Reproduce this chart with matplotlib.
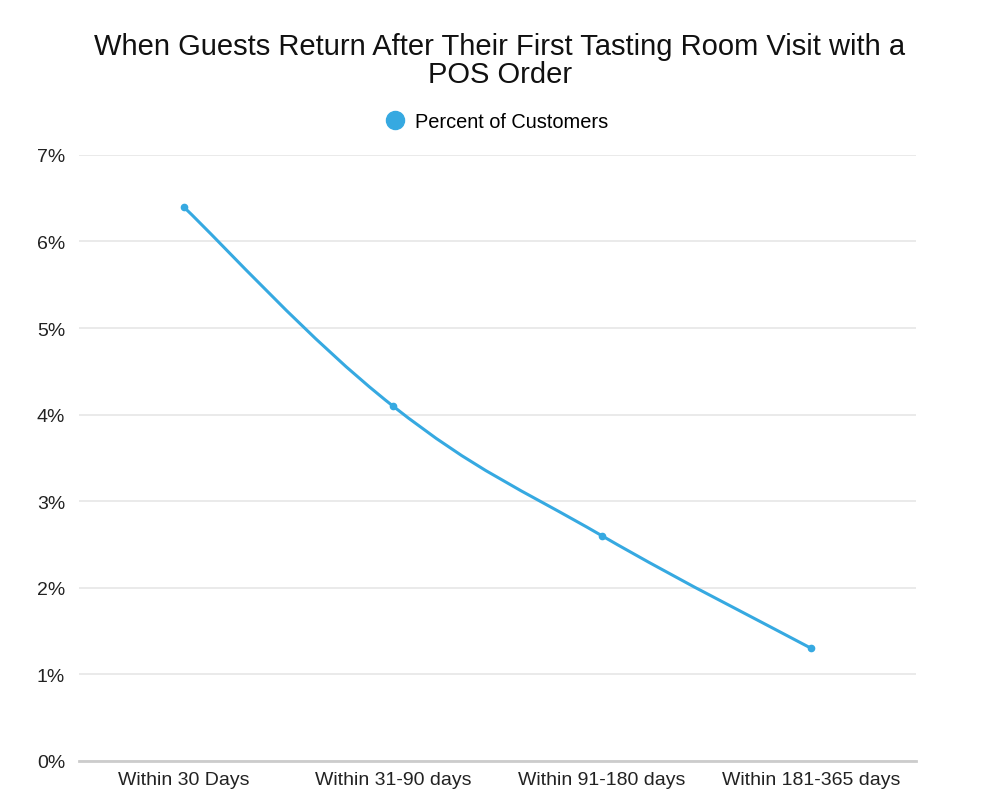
import matplotlib
matplotlib.use("Agg")
import matplotlib.pyplot as plt
import numpy as np
from matplotlib.path import Path
from matplotlib.patches import PathPatch
from matplotlib.lines import Line2D

categories = ["Within 30 Days", "Within 31-90 days", "Within 91-180 days", "Within 181-365 days"]
values = [6.4, 4.1, 2.6, 1.3]
yticks = [0, 1, 2, 3, 4, 5, 6, 7]
ytick_labels = ["0%", "1%", "2%", "3%", "4%", "5%", "6%", "7%"]
series_name = "Percent of Customers"
title = "When Guests Return After Their First Tasting Room Visit with a\nPOS Order"

color = "#36A9E1"
plt.rcParams['font.family'] = ['Liberation Sans', 'DejaVu Sans']

fig = plt.figure(figsize=(10, 8.12), dpi=100)
ax = fig.add_axes([0.079, 0.0616, 0.837, 0.7464])

x = np.arange(len(categories), dtype=float)
y = np.array(values, dtype=float)

# smooth curve via Catmull-Rom -> Bezier (tension) built from the data points
t = 0.4
verts = [(x[0], y[0])]
codes = [Path.MOVETO]
n = len(x)
for i in range(n - 1):
    p0 = (x[i - 1], y[i - 1]) if i > 0 else (x[i], y[i])
    p1 = (x[i], y[i])
    p2 = (x[i + 1], y[i + 1])
    p3 = (x[i + 2], y[i + 2]) if i + 2 < n else (x[i + 1], y[i + 1])
    c1 = (p1[0] + (p2[0] - p0[0]) * t / 2, p1[1] + (p2[1] - p0[1]) * t / 2)
    c2 = (p2[0] - (p3[0] - p1[0]) * t / 2, p2[1] - (p3[1] - p1[1]) * t / 2)
    verts += [c1, c2, p2]
    codes += [Path.CURVE4, Path.CURVE4, Path.CURVE4]
ax.add_patch(PathPatch(Path(verts, codes), facecolor="none", edgecolor=color, lw=2.2, zorder=3))
ax.plot(x, y, linestyle="none", marker="o", ms=4.5, color=color, zorder=4)

ax.set_xlim(-0.5, len(categories) - 0.5)
ax.set_ylim(0, 7)
ax.set_yticks(yticks)
ax.set_yticklabels(ytick_labels)
ax.set_xticks(x)
ax.set_xticklabels(categories)
ax.tick_params(axis="both", length=0, labelsize=14, colors="#222222")
ax.tick_params(axis="y", pad=10)
ax.tick_params(axis="x", pad=7)
ax.grid(axis="y", color="#e6e6e6", lw=1.2)
ax.set_axisbelow(True)
for s in ["top", "right", "left"]:
    ax.spines[s].set_visible(False)
ax.spines["bottom"].set_color("#cccccc")
ax.spines["bottom"].set_linewidth(2)

fig.text(0.5, 0.925, title, ha="center", va="center", fontsize=21, color="#111111", linespacing=1.0)

handle = Line2D([], [], linestyle="none", marker="o", ms=13, color=color)
fig.legend([handle], [series_name], loc="center", bbox_to_anchor=(0.497, 0.849), frameon=False,
           fontsize=14.4, handletextpad=0.5, handlelength=1.0)

fig.savefig("out.png", dpi=100, facecolor="white")
